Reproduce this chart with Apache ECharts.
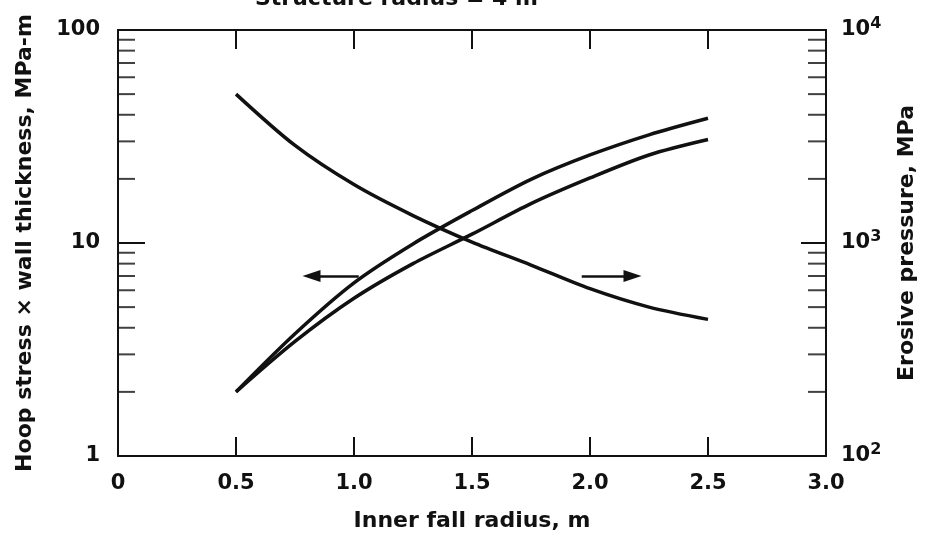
<!DOCTYPE html>
<html>
<head>
<meta charset="utf-8">
<script src="https://cdn.jsdelivr.net/npm/echarts@6/dist/echarts.min.js"></script>
<style>
  html, body { margin: 0; padding: 0; background: #fff; }
  #chart { width: 926px; height: 537px; }
</style>
</head>
<body>
<div id="chart"></div>
<script>
// inner fall radius, m
const radius = [0.5, 0.75, 1.0, 1.25, 1.5, 1.75, 2.0, 2.25, 2.5]
// hoop stress x wall thickness, MPa-m (left axis)
const hoopUpper = [2.0, 3.75, 6.5, 9.9, 14.2, 19.9, 25.9, 32.2, 38.5]
const hoopLower = [2.0, 3.45, 5.5, 8.0, 11.0, 15.3, 20.2, 25.9, 30.6]
// erosive pressure, MPa (right axis)
const erosive = [5000, 2870, 1880, 1345, 1010, 788, 610, 500, 438]

// arrows pointing at the axis each curve belongs to (end = centre of the head)
const leftArrow = [[1.02, 7.0], [0.82, 7.0]]
const rightArrow = [[1.965, 700], [2.18, 700]]

// log minor ticks
const leftMinor = [2, 3, 4, 5, 6, 7, 8, 9, 20, 30, 40, 50, 60, 70, 80, 90]
const rightMinor = [200, 300, 400, 500, 600, 700, 800, 900, 2000, 3000, 4000, 5000, 6000, 7000, 8000, 9000]

const FONT = 'DejaVu Sans'
const BLACK = '#111'

function pairs(xs, ys) {
  return xs.map((x, i) => [x, ys[i]])
}

const chart = echarts.init(document.getElementById('chart'))

const axisLine = { show: true, onZero: false, lineStyle: { color: BLACK, width: 2 } }
const labelStyle = { color: BLACK, fontFamily: FONT, fontWeight: 'bold', fontSize: 21 }
const nameStyle = { color: BLACK, fontFamily: FONT, fontWeight: 'bold', fontSize: 22 }
const curveStyle = { color: BLACK, width: 3.5 }
const arrowLine = {
  silent: true,
  symbol: ['none', 'triangle'],
  symbolSize: [12, 18],
  label: { show: false },
  lineStyle: { color: BLACK, width: 2.5, type: 'solid' }
}

const option = {
  animation: false,
  title: {
    text: 'Structure radius = 4 m',
    left: 250,
    top: -17,
    textStyle: { color: BLACK, fontFamily: FONT, fontWeight: 'bold', fontSize: 22 }
  },
  grid: { left: 118, right: 98, top: 30, bottom: 79 },
  xAxis: [
    {
      type: 'value',
      min: 0,
      max: 3,
      interval: 0.5,
      position: 'bottom',
      axisLine: axisLine,
      axisTick: { show: true, inside: true, length: 19, lineStyle: { color: BLACK, width: 2 } },
      splitLine: { show: false },
      axisLabel: Object.assign({}, labelStyle, {
        margin: 17,
        formatter: v => (v === 0 ? '0' : v.toFixed(1))
      }),
      name: 'Inner fall radius, m',
      nameLocation: 'middle',
      nameGap: 54,
      nameTextStyle: nameStyle
    },
    {
      type: 'value',
      min: 0,
      max: 3,
      interval: 0.5,
      position: 'top',
      axisLine: axisLine,
      axisTick: { show: true, inside: true, length: 19, lineStyle: { color: BLACK, width: 2 } },
      splitLine: { show: false },
      axisLabel: { show: false }
    }
  ],
  yAxis: [
    {
      type: 'log',
      logBase: 10,
      min: 1,
      max: 100,
      position: 'left',
      axisLine: axisLine,
      axisTick: { show: true, inside: true, length: 27, lineStyle: { color: BLACK, width: 2 } },
      splitLine: { show: false },
      axisLabel: Object.assign({}, labelStyle, { margin: 18 }),
      name: 'Hoop stress \u00d7 wall thickness, MPa-m',
      nameLocation: 'middle',
      nameGap: 82,
      nameTextStyle: nameStyle
    },
    {
      type: 'log',
      logBase: 10,
      min: 100,
      max: 10000,
      position: 'right',
      axisLine: axisLine,
      axisTick: { show: true, inside: true, length: 25, lineStyle: { color: BLACK, width: 2 } },
      splitLine: { show: false },
      axisLabel: Object.assign({}, labelStyle, {
        margin: 15,
        formatter: v => '10{sup|' + Math.round(Math.log10(v)) + '}',
        rich: {
          sup: { fontFamily: FONT, fontWeight: 'bold', fontSize: 16, color: BLACK, verticalAlign: 'top', padding: [0, 0, 12, 0] }
        }
      }),
      name: 'Erosive pressure, MPa',
      nameLocation: 'middle',
      nameGap: 70,
      nameRotate: 90,
      nameTextStyle: nameStyle
    }
  ],
  series: [
    {
      name: 'hoop upper',
      type: 'line',
      yAxisIndex: 0,
      data: pairs(radius, hoopUpper),
      smooth: 0.3,
      showSymbol: false,
      silent: true,
      lineStyle: curveStyle,
      markLine: Object.assign({}, arrowLine, {
        data: [[{ coord: leftArrow[0] }, { coord: leftArrow[1] }]]
      })
    },
    {
      name: 'hoop lower',
      type: 'line',
      yAxisIndex: 0,
      data: pairs(radius, hoopLower),
      smooth: 0.3,
      showSymbol: false,
      silent: true,
      lineStyle: curveStyle
    },
    {
      name: 'erosive',
      type: 'line',
      yAxisIndex: 1,
      data: pairs(radius, erosive),
      smooth: 0.3,
      showSymbol: false,
      silent: true,
      lineStyle: curveStyle,
      markLine: Object.assign({}, arrowLine, {
        data: [[{ coord: rightArrow[0] }, { coord: rightArrow[1] }]]
      })
    },
    {
      name: 'left minor ticks',
      type: 'scatter',
      yAxisIndex: 0,
      data: leftMinor.map(v => [0, v]),
      symbol: 'rect',
      symbolSize: [17, 2],
      symbolOffset: [8.5, 0],
      itemStyle: { color: BLACK },
      clip: false,
      silent: true
    },
    {
      name: 'right minor ticks',
      type: 'scatter',
      yAxisIndex: 1,
      data: rightMinor.map(v => [3, v]),
      symbol: 'rect',
      symbolSize: [18, 2],
      symbolOffset: [-9, 0],
      itemStyle: { color: BLACK },
      clip: false,
      silent: true
    }
  ]
}

chart.setOption(option)
</script>
</body>
</html>
